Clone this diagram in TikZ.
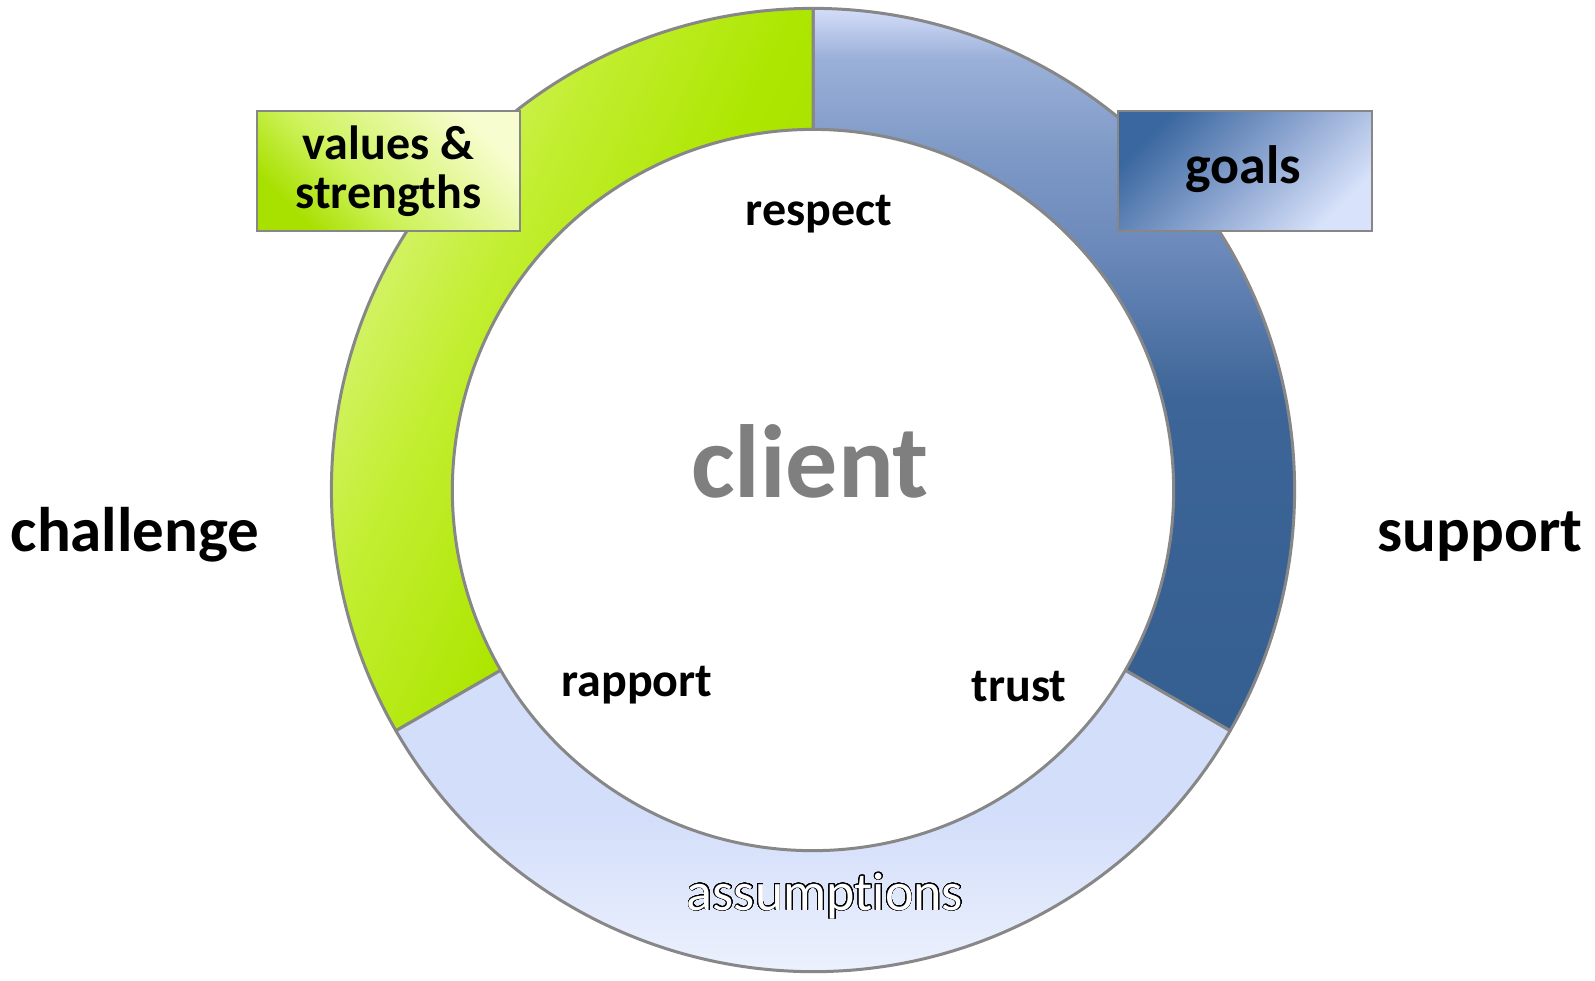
\documentclass[tikz,border=0pt]{standalone}
\usepackage{fontspec}
\setmainfont{Carlito}[Ligatures=NoCommon]
\usepackage{contour}
\contourlength{0.9pt}
\contournumber{32}
\definecolor{ringline}{HTML}{878787}
\definecolor{gLight}{HTML}{DCF582}
\definecolor{gMid}{HTML}{C2EE30}
\definecolor{gMain}{HTML}{ADE600}
\definecolor{gDeep}{HTML}{A2DC00}
\definecolor{bTop}{HTML}{D4DDF9}
\definecolor{bA}{HTML}{9AB0D8}
\definecolor{bB}{HTML}{7E99C6}
\definecolor{bC}{HTML}{6A88BA}
\definecolor{bD}{HTML}{3D6597}
\definecolor{bE}{HTML}{355E91}
\definecolor{lbTop}{HTML}{D3DEFA}
\definecolor{lbBot}{HTML}{F7F9FE}
\definecolor{vbA}{HTML}{A8E000}
\definecolor{vbB}{HTML}{CDF25A}
\definecolor{vbC}{HTML}{F8FDD0}
\definecolor{gbA}{HTML}{3A679F}
\definecolor{gbB}{HTML}{88A2CE}
\definecolor{gbC}{HTML}{D8E2FA}
\definecolor{clientgray}{HTML}{7F7F7F}
\pgfdeclarehorizontalshading{greenshade}{100bp}{color(0bp)=(gLight); color(25bp)=(gLight); color(40bp)=(gMid); color(55bp)=(gMain); color(75bp)=(gDeep); color(100bp)=(gDeep)}
\pgfdeclareverticalshading{blueshade}{100bp}{color(0bp)=(bE); color(25bp)=(bE); color(48bp)=(bD); color(58bp)=(bC); color(65bp)=(bB); color(71.5bp)=(bA); color(75bp)=(bTop); color(100bp)=(bTop)}
\pgfdeclareverticalshading{lightblueshade}{100bp}{color(0bp)=(lbBot); color(25bp)=(lbBot); color(55bp)=(lbTop); color(75bp)=(lbTop); color(100bp)=(lbTop)}
\pgfdeclarehorizontalshading{valshade}{100bp}{color(0bp)=(vbA); color(25bp)=(vbA); color(42bp)=(vbB); color(75bp)=(vbC); color(100bp)=(vbC)}
\pgfdeclarehorizontalshading{goalshade}{100bp}{color(0bp)=(gbA); color(25bp)=(gbA); color(50bp)=(gbB); color(75bp)=(gbC); color(100bp)=(gbC)}
\tikzset{
  seg/.style={draw=ringline, line width=3pt, line join=round},
  tagbox/.style={draw=ringline, line width=2pt, minimum width=263pt, minimum height=120pt, inner sep=0pt},
  bigword/.style={font=\bfseries\fontsize{63}{70}\selectfont, anchor=base, inner sep=0pt},
  midword/.style={font=\bfseries\fontsize{48}{50}\selectfont, anchor=base, inner sep=0pt},
}
\begin{document}
\begin{tikzpicture}[x=1pt,y=1pt]
\useasboundingbox (0,0) rectangle (1595,980);
\coordinate (C) at (813,490);
% ring segments
\path[seg, shading=blueshade, shift={(C)}]
  (90:481.6) arc[start angle=90, end angle=-30, radius=481.6]
  -- (-30:360.6) arc[start angle=-30, end angle=90, radius=360.6] -- cycle;
\path[seg, shading=greenshade, shading angle=-25, shift={(C)}]
  (90:481.6) arc[start angle=90, end angle=210, radius=481.6]
  -- (210:360.6) arc[start angle=210, end angle=90, radius=360.6] -- cycle;
\path[seg, shading=lightblueshade, shift={(C)}]
  (210:481.6) arc[start angle=210, end angle=330, radius=481.6]
  -- (330:360.6) arc[start angle=330, end angle=210, radius=360.6] -- cycle;
% boxes
\node[tagbox, shading=valshade, shading angle=45, align=center,
      font=\bfseries\fontsize{48}{48.5}\selectfont] (values) at (388.5,809)
  {values \&\\strengths};
\node[tagbox, minimum width=254pt, shading=goalshade, shading angle=-45] (goals) at (1245,809) {};
\node[font=\bfseries\fontsize{54}{60}\selectfont, anchor=base, inner sep=0pt] (goalstext) at (1243,796) {goals};
% words
\node[bigword] (challenge) at (135,428) {challenge};
\node[bigword] (support) at (1480,428) {support};
\node[font=\bfseries\fontsize{104}{110}\selectfont, text=clientgray, anchor=base, inner sep=0pt] (client) at (810,482) {client};
\node[midword] (respect) at (819,754) {respect};
\node[midword] (rapport) at (637,283) {rapport};
\node[midword] (trust) at (1019,278) {trust};
\node[font=\fontsize{54}{60}\selectfont, anchor=base, inner sep=0pt, text=white] (assumptions) at (825,70) {\contour{black}{assumptions}};
\end{tikzpicture}
\end{document}
